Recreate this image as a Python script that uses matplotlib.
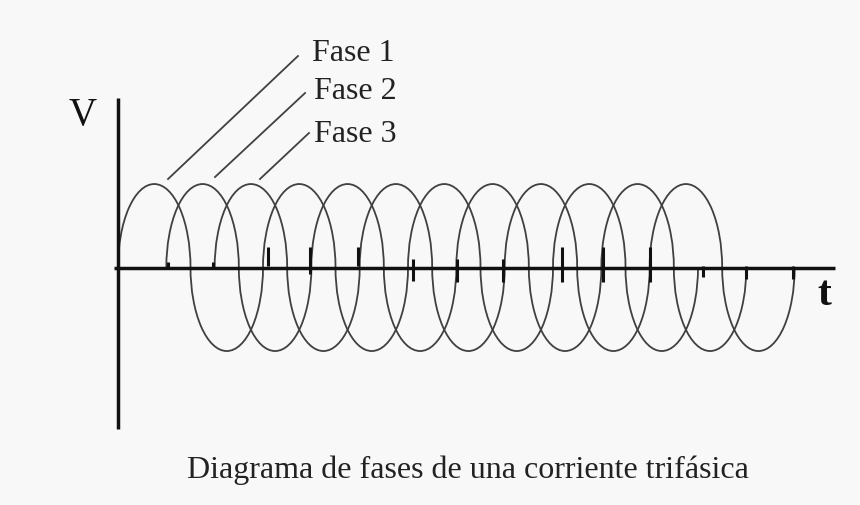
import numpy as np
import matplotlib.pyplot as plt
from matplotlib.patches import Arc

# Datos ----------------------------------------------------------------------
fases = ['Fase 1', 'Fase 2', 'Fase 3']
inicio_fase = [0.0, 1 / 3, 2 / 3]      # desfase (en periodos)
ciclos = 4                              # periodos dibujados por fase
periodo = 1.0
amplitud = 1.0

# posicion de las etiquetas (t, V) y lineas guia (desde la curva a la etiqueta)
etiqueta_t = [1.338, 1.350, 1.355]
etiqueta_v = [2.485, 2.030, 1.515]
guia_desde = [(0.345, 1.06), (0.669, 1.084), (0.979, 1.060)]
guia_hasta = [(1.241, 2.533), (1.290, 2.090), (1.317, 1.611)]

# trazos gruesos sobre el eje t (donde se juntan los arcos)
marca_t = [0.345, 0.655, 1.034, 1.324, 1.655, 2.034, 2.338, 2.655,
           3.062, 3.345, 3.669, 4.034, 4.331, 4.655]
marca_v0 = [0.0, 0.0, 0.018, -0.078, 0.018, -0.162, -0.174, -0.174,
            -0.174, -0.174, -0.174, -0.114, -0.138, -0.138]
marca_v1 = [0.066, 0.066, 0.246, 0.246, 0.246, 0.102, 0.102, 0.102,
            0.246, 0.246, 0.246, 0.018, 0.018, 0.018]

titulo = 'Diagrama de fases de una corriente trifásica'

# ----------------------------------------------------------------------------
plt.rcParams['font.family'] = ['Liberation Serif', 'DejaVu Serif']

fig = plt.figure(figsize=(8.6, 5.06), dpi=100, facecolor='#f8f8f8')
ax = fig.add_axes([0, 0, 1, 1])
ax.set_facecolor('#f8f8f8')
ax.set_xlim(-0.8138, 5.1172)
ax.set_ylim(-2.844, 3.216)
ax.axis('off')

col = '#404040'
medio = periodo / 2
for t0 in inicio_fase:
    for k in range(2 * ciclos):
        centro = t0 + (k + 0.5) * medio
        if k % 2 == 0:
            th1, th2 = 0, 180
        else:
            th1, th2 = 180, 360
        ax.add_patch(Arc((centro, 0), medio, 2 * amplitud, theta1=th1, theta2=th2,
                         color=col, lw=1.3))

# ejes
ax.plot([0, 0], [-1.934, 2.03], color='#111111', lw=2.5, solid_capstyle='butt')
ax.plot([-0.03, 4.945], [0, 0], color='#111111', lw=2.5, solid_capstyle='butt')
ax.vlines(marca_t, marca_v0, marca_v1, color='#111111', lw=2.2)
ax.text(-0.245, 1.719, 'V', fontsize=28, ha='center', va='baseline', color='#111111')
ax.text(4.821, -0.437, 't', fontsize=30, ha='left', va='baseline', color='#111111',
        fontweight='bold')

# etiquetas de fase
for i in range(len(fases)):
    ax.plot([guia_desde[i][0], guia_hasta[i][0]], [guia_desde[i][1], guia_hasta[i][1]],
            color=col, lw=1.3)
    ax.text(etiqueta_t[i], etiqueta_v[i], fases[i], fontsize=23, ha='left',
            va='baseline', color='#222222')

ax.text(2.410, -2.509, titulo, fontsize=23, ha='center', va='baseline', color='#222222')

fig.savefig('out.png', dpi=100, facecolor=fig.get_facecolor())
